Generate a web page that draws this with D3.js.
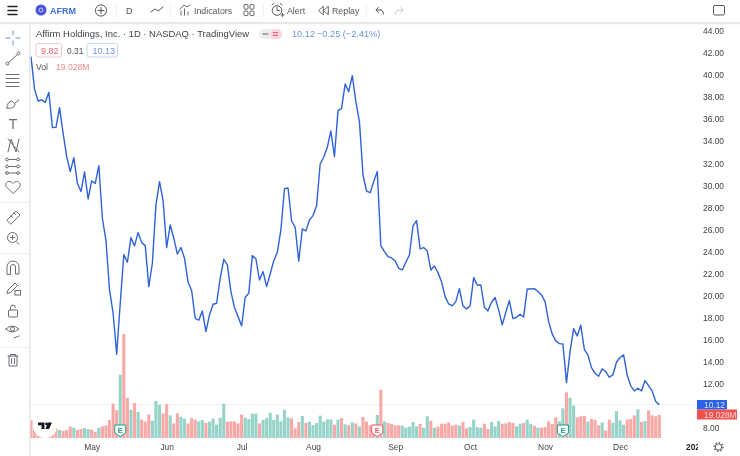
<!DOCTYPE html>
<html>
<head>
<meta charset="utf-8">
<script src="https://d3js.org/d3.v7.min.js"></script>
<style>
  html, body { margin: 0; padding: 0; background: #fff; }
  svg { display: block; filter: blur(0.3px); }
  text { font-family: "Liberation Sans", Arial, sans-serif; }
</style>
</head>
<body>
<div id="chart"></div>
<script>
// closing price per trading day
const closes = [
  41.67, 38.71, 37.65, 37.75, 37.53, 38.44, 35.24, 35.27, 37.05, 34.72,
  32.61, 31.25, 32.52, 30.19, 29.44, 31.22, 28.77, 30.40, 30.19, 31.79,
  27.02, 25.00, 20.52, 18.41, 14.69, 19.31, 23.72, 23.03, 25.27, 24.51,
  25.72, 24.81, 24.54, 20.82, 22.94, 28.23, 30.34, 28.62, 24.36, 26.41,
  25.21, 23.78, 24.36, 23.39, 21.22, 20.46, 17.95, 17.77, 18.62, 16.74,
  18.25, 19.22, 19.31, 21.58, 23.30, 22.79, 20.37, 18.92, 18.10, 17.26,
  19.86, 20.22, 23.63, 23.33, 21.42, 22.18, 20.82, 21.97, 23.15, 23.93,
  25.96, 29.70, 29.76, 26.77, 26.20, 23.12, 26.05, 25.87, 26.86, 27.26,
  28.16, 31.94, 32.55, 33.45, 34.93, 32.61, 36.78, 36.99, 39.19, 38.50,
  39.95, 37.59, 35.78, 30.94, 29.49, 29.34, 30.34, 31.25, 24.54, 23.99,
  23.54, 23.42, 23.15, 22.48, 22.33, 23.03, 23.69, 26.32, 26.80, 24.24,
  24.36, 24.05, 22.33, 22.69, 22.09, 21.27, 19.91, 19.25, 19.07, 19.46,
  20.64, 19.07, 18.80, 19.07, 21.64, 20.97, 20.97, 18.95, 18.62, 19.40,
  19.83, 18.71, 17.35, 18.47, 19.55, 17.92, 18.04, 18.31, 18.07, 20.61,
  20.61, 20.64, 20.37, 20.07, 19.46, 17.65, 16.53, 15.90, 15.65, 15.62,
  12.12, 14.93, 17.01, 16.35, 17.32, 15.14, 14.63, 13.48, 12.97, 12.69,
  13.36, 13.12, 12.60, 12.81, 13.96, 14.39, 14.63, 12.81, 11.82, 11.36,
  11.61, 11.36, 12.30, 11.85, 11.36, 10.40, 10.12
];

// volume in millions
const volumes = [
  14.6, 10.2, 6.9, 2.8, 2.8, 4.1, 6.9, 8.3, 6.6, 5.8,
  6.6, 9.4, 8.5, 6.6, 7.4, 8.3, 7.4, 6.9, 5.2, 8.5,
  9.6, 10.5, 14.9, 28.4, 22.9, 52.3, 86.0, 33.1, 23.4, 28.9,
  21.5, 15.2, 13.5, 19.3, 14.3, 30.6, 27.5, 20.4, 28.1, 18.7,
  12.1, 20.4, 17.6, 16.0, 12.1, 16.5, 15.2, 13.8, 14.9, 12.4,
  13.5, 16.0, 11.0, 16.8, 28.4, 13.5, 13.8, 13.8, 12.1, 19.3,
  16.8, 15.7, 20.1, 20.1, 12.1, 14.9, 16.5, 20.7, 14.9, 19.3,
  13.8, 23.4, 17.1, 16.3, 8.0, 13.2, 18.2, 12.4, 13.5, 10.7,
  12.4, 18.5, 13.5, 15.4, 15.4, 11.0, 15.2, 16.5, 11.3, 10.5,
  12.9, 12.1, 9.6, 17.4, 13.5, 10.5, 11.0, 19.0, 39.9, 13.8,
  12.4, 11.6, 10.5, 10.5, 10.2, 8.5, 9.4, 13.2, 9.6, 11.6,
  8.5, 17.9, 14.3, 8.5, 9.4, 11.8, 11.8, 12.9, 10.2, 11.0,
  10.2, 13.2, 8.0, 9.1, 15.2, 8.8, 8.5, 11.8, 7.4, 13.2,
  9.6, 14.0, 11.8, 12.1, 13.2, 12.4, 9.6, 11.8, 12.4, 15.2,
  11.6, 10.2, 8.5, 8.5, 9.1, 13.8, 11.6, 17.1, 13.8, 24.5,
  37.7, 33.3, 26.7, 17.1, 17.9, 18.2, 13.5, 15.7, 14.9, 10.5,
  12.9, 6.1, 15.2, 12.7, 22.3, 14.6, 11.0, 15.4, 15.7, 18.7,
  23.7, 13.2, 14.0, 22.9, 18.7, 17.9, 19.03
];

// r = down day, g = up day, ten per group
const volumeDirs = (
  'rrrggrrrgr' + 'rrgrrggrrg' + 'rrrrrgrrgr' + 'grrrgggrrg' + 'rrggrrrggr' +
  'gggggrrrrr' + 'ggggrggggg' + 'gggrrrgrgg' + 'gggggrgrgr' + 'grgrrrrgrg' +
  'rrrrgggggr' + 'ggrgrrrrrr' + 'grrggggrrg' + 'ggrrrrggrg' + 'grgrrrrrgg' +
  'rggrrrgrrr' + 'grrggggrrr' + 'grgrrrr'
).split('');

const monthLabels = ['May', 'Jun', 'Jul', 'Aug', 'Sep', 'Oct', 'Nov', 'Dec'];
const monthStarts = [17, 38, 59, 79, 102, 123, 144, 165];
const priceTicks = [8, 12, 14, 16, 18, 20, 22, 24, 26, 28, 30, 32, 34, 36, 38, 40, 42, 44];

// earnings markers: trading day index and colour
const earnings = [
  {day: 25, color: '#1f9c84'},
  {day: 97, color: '#ee5a5f'},
  {day: 149, color: '#1f9c84'},
];

const width = 740, height = 456;
const svg = d3.select('#chart').append('svg').attr('width', width).attr('height', height);

svg.append('rect').attr('width', width).attr('height', height).attr('fill', '#fff');

const x = d3.scaleLinear().domain([0, closes.length - 1]).range([31, 659.3]);
const y = d3.scaleLinear().domain([8, 44]).range([428, 31]);
const yVol = d3.scaleLinear().domain([0, 86]).range([438, 334]);

const lastClose = closes[closes.length - 1];

// last price line
svg.append('line')
  .attr('x1', 30).attr('x2', 697)
  .attr('y1', y(lastClose)).attr('y2', y(lastClose))
  .attr('stroke', '#eef0fa').attr('stroke-width', 1);

// volume
svg.append('g').selectAll('rect').data(volumes).join('rect')
  .attr('x', (d, i) => x(i) - 1.55)
  .attr('width', 3.1)
  .attr('y', d => yVol(d))
  .attr('height', d => yVol(0) - yVol(d))
  .attr('fill', (d, i) => volumeDirs[i] === 'g' ? '#96d3c8' : '#f8a9a7');

// price line
const line = d3.line().x((d, i) => x(i)).y(d => y(d));
svg.append('path').datum(closes)
  .attr('d', line)
  .attr('fill', 'none')
  .attr('stroke', '#2f62d9')
  .attr('stroke-width', 1.4)
  .attr('stroke-linejoin', 'round');

// earnings flags
const flags = svg.append('g').selectAll('g').data(earnings).join('g')
  .attr('transform', d => `translate(${x(d.day)},430)`);
flags.append('path')
  .attr('d', 'M-5.5,-5 L5.5,-5 L5.5,3 L0,6.5 L-5.5,3 Z')
  .attr('fill', '#fff')
  .attr('stroke', d => d.color)
  .attr('stroke-width', 1);
flags.append('text')
  .attr('text-anchor', 'middle').attr('y', 2.6)
  .attr('font-size', 7.5).attr('font-weight', 700)
  .attr('fill', d => d.color)
  .text('E');

// tradingview logo
svg.append('circle').attr('cx', 45).attr('cy', 426).attr('r', 12).attr('fill', '#fff');
svg.append('path')
  .attr('d', 'M38,422.5h6.5v6.5h-3v-3.7h-3.5z M45.5,429l2.5,-6.5h4l-3,6.5z')
  .attr('fill', '#131722');
svg.append('circle').attr('cx', 46.6).attr('cy', 424).attr('r', 1.4).attr('fill', '#131722');

const yAxis = d3.axisRight(y).tickValues(priceTicks).tickSize(0).tickFormat(d3.format('.2f'));
svg.append('g').attr('transform', 'translate(703,0)').call(yAxis)
  .call(g => g.select('.domain').remove())
  .call(g => g.selectAll('text')
    .attr('x', 0).attr('fill', '#3f4249').attr('font-size', 8.4)
    .attr('font-family', '"Liberation Sans", sans-serif'));

const xAxis = d3.axisBottom(x).tickValues(monthStarts)
  .tickSize(0).tickFormat((d, i) => monthLabels[i]);
svg.append('g').attr('transform', 'translate(0,441)').call(xAxis)
  .call(g => g.select('.domain').remove())
  .call(g => g.selectAll('text')
    .attr('y', 3).attr('fill', '#3f4249').attr('font-size', 8.4)
    .attr('font-family', '"Liberation Sans", sans-serif'));

// last value tags
svg.append('rect').attr('x', 697).attr('y', 400).attr('width', 30).attr('height', 9.5).attr('fill', '#2962e8');
svg.append('text').attr('x', 704).attr('y', 408).attr('font-size', 8.4).attr('fill', '#d5e0fb').text(lastClose.toFixed(2));
svg.append('rect').attr('x', 697).attr('y', 409.5).attr('width', 40).attr('height', 10).attr('fill', '#ee5350');
svg.append('text').attr('x', 704).attr('y', 418).attr('font-size', 8.4).attr('fill', '#fbd8d6').text('19.028M');

// bottom right
svg.append('text').attr('x', 686).attr('y', 450).attr('font-size', 8.4).attr('font-weight', 700).attr('fill', '#222').text('202');
svg.append('rect').attr('x', 698).attr('y', 442).attr('width', 14).attr('height', 12).attr('fill', '#fff');
svg.append('circle').attr('cx', 718.5).attr('cy', 447).attr('r', 3.2).attr('fill', 'none').attr('stroke', '#555').attr('stroke-width', 1);
svg.append('circle').attr('cx', 718.5).attr('cy', 447).attr('r', 4.4).attr('fill', 'none').attr('stroke', '#555').attr('stroke-width', 1.4).attr('stroke-dasharray', '1.4 2');

// frame
svg.append('rect').attr('x', 0).attr('y', 22).attr('width', width).attr('height', 2.2).attr('fill', '#e6e7ea');
svg.append('rect').attr('x', 29).attr('y', 24).attr('width', 1.6).attr('height', 432).attr('fill', '#e6e7ea');

// legend
const label = (tx, ty, str, size, fill, weight) => svg.append('text')
  .attr('x', tx).attr('y', ty).attr('font-size', size).attr('fill', fill)
  .attr('font-weight', weight || 400).text(str);

label(36, 37, 'Affirm Holdings, Inc. · 1D · NASDAQ · TradingView', 9.45, '#3f4249');
svg.append('rect').attr('x', 259).attr('y', 29).attr('width', 23).attr('height', 10).attr('rx', 5).attr('fill', '#eeeef0');
svg.append('rect').attr('x', 270).attr('y', 29).attr('width', 12).attr('height', 10).attr('rx', 5).attr('fill', '#fbd5dc');
svg.append('path').attr('d', 'M262.5,34h6').attr('stroke', '#777').attr('stroke-width', 1.2);
svg.append('path').attr('d', 'M273,32.6h5 M273,35.4h5').attr('stroke', '#e0566f').attr('stroke-width', 1);
label(292, 37, '10.12', 9.2, '#6d94e2');
label(317, 37, '−0.25 (−2.41%)', 9.2, '#6d94e2');

svg.append('rect').attr('x', 36).attr('y', 43.5).attr('width', 25.5).attr('height', 13.5).attr('rx', 2).attr('fill', '#fff').attr('stroke', '#f7c5c9');
label(41, 53.5, '9.82', 9, '#e0666f');
label(67, 53.5, '0.31', 8.4, '#555');
svg.append('rect').attr('x', 87).attr('y', 43.5).attr('width', 30.5).attr('height', 13.5).attr('rx', 2).attr('fill', '#fff').attr('stroke', '#c5d5f5');
label(92.5, 53.5, '10.13', 9, '#6d94e2');
label(36, 70, 'Vol', 8.6, '#555');
label(56, 70, '19.028M', 8.6, '#f08a88');

// top toolbar
const icon = (d, color, sw) => svg.append('path').attr('d', d)
  .attr('fill', 'none').attr('stroke', color || '#555').attr('stroke-width', sw || 1)
  .attr('stroke-linecap', 'round').attr('stroke-linejoin', 'round');

icon('M8,6.5h9 M8,10.5h9 M8,14.5h9', '#222', 1.5);
svg.append('circle').attr('cx', 41).attr('cy', 10).attr('r', 5.5).attr('fill', '#4a52d8');
svg.append('circle').attr('cx', 41).attr('cy', 10).attr('r', 2).attr('fill', 'none').attr('stroke', '#c9cdf7').attr('stroke-width', 1);
label(50, 14, 'AFRM', 9, '#3f6fe0', 700);
svg.append('circle').attr('cx', 101).attr('cy', 10.5).attr('r', 5.6).attr('fill', 'none').attr('stroke', '#555');
icon('M101,7.5v6 M98,10.5h6', '#555', 1);
label(126, 14, 'D', 9, '#555');
icon('M151,12l4,-3l3,2l5,-4', '#555', 1);
icon('M181,15v-4 M184.5,15v-6 M188,15v-3 M180,9l4,-4l3,2l3,-2', '#555', .9);
label(194, 14, 'Indicators', 8.8, '#555');
[244, 250].forEach(cx => [4.5, 11].forEach(cy =>
  svg.append('rect').attr('x', cx).attr('y', cy).attr('width', 4).attr('height', 4.6).attr('rx', 1)
    .attr('fill', 'none').attr('stroke', '#555').attr('stroke-width', .9)));
svg.append('circle').attr('cx', 277).attr('cy', 10.5).attr('r', 4.8).attr('fill', 'none').attr('stroke', '#555');
icon('M277,7.5v3h2.5 M272,5l1.8,-1.5 M282,5l-1.8,-1.5 M281,15h3 M282.5,13.5v3', '#555', .9);
label(287, 14, 'Alert', 8.8, '#555');
icon('M323,6.5l-4.5,4l4.5,4z M328,6.5l-4.5,4l4.5,4z', '#555', .9);
label(332, 14, 'Replay', 8.8, '#555');
icon('M381,10h-5l2.5,-2.5 M376,10l2.5,2.5 M381,10q3,1 2.5,4', '#555', 1);
icon('M403,10h-5 M403,10l-2.5,-2.5 M403,10l-2.5,2.5 M398,10q-3,1 -2.5,4', '#ccc', 1);
svg.append('rect').attr('x', 713.5).attr('y', 5.5).attr('width', 11).attr('height', 9.5).attr('rx', 1.5)
  .attr('fill', 'none').attr('stroke', '#555').attr('stroke-width', 1);
[116, 170, 263, 366].forEach(sx => svg.append('rect').attr('x', sx).attr('y', 4).attr('width', 1).attr('height', 13).attr('fill', '#f1f1f3'));

// left toolbar
const t = '#6a6d75';
icon('M13,31v4 M13,41v4 M6,38h4 M16,38h4', '#6f8fe0', 1);
icon('M8,63l10,-9', t);
svg.append('circle').attr('cx', 7.5).attr('cy', 63.5).attr('r', 1.5).attr('fill', '#fff').attr('stroke', t);
svg.append('circle').attr('cx', 18.5).attr('cy', 53.5).attr('r', 1.5).attr('fill', '#fff').attr('stroke', t);
icon('M6,74.5h13 M6,78.5h13 M6,82.5h13 M6,86.5h13', t);
icon('M7,108c0,-4 2,-7 5,-7l3,3c0,3 -3,5 -8,4z M15,103l4,-3', t);
svg.append('text').attr('x', 13).attr('y', 129).attr('text-anchor', 'middle').attr('font-size', 14)
  .attr('font-family', '"Liberation Serif", serif').attr('fill', t).text('T');
icon('M8,152l3,-13l5,13l3,-13 M8,139l11,13', t);
icon('M6,159.5h14 M6,166.5h14 M6,173h14', t);
[[7, 159.5], [18, 159.5], [7, 166.5], [18, 166.5], [7, 173], [18, 173]].forEach(([cx, cy]) =>
  svg.append('circle').attr('cx', cx).attr('cy', cy).attr('r', 1.4).attr('fill', '#fff').attr('stroke', t));
icon('M13,193.5l-6.5,-6.5c-3,-4 3,-8 6.5,-3.5c3.5,-4.5 9.5,-.5 6.5,3.5z', t);
icon('M7,220l9,-9l4,4l-9,9z M11,216l1.5,1.5 M14,213l1.5,1.5', t);
svg.append('circle').attr('cx', 12.5).attr('cy', 237.5).attr('r', 5).attr('fill', 'none').attr('stroke', t);
icon('M10.5,237.5h4 M12.5,235.5v4 M16,241.5l3,3', t);
icon('M7,274v-7a6,6 0 0 1 12,0v7h-3.5v-7a2.5,2.5 0 0 0 -5,0v7z', t);
icon('M7,293l1,-3l7,-7l2.5,2.5l-7,7z', t);
svg.append('rect').attr('x', 15).attr('y', 290.5).attr('width', 5.5).attr('height', 4.5).attr('fill', 'none').attr('stroke', t);
svg.append('rect').attr('x', 8.5).attr('y', 310).attr('width', 9).attr('height', 7).attr('rx', 1).attr('fill', 'none').attr('stroke', t);
icon('M10.5,310v-2.5a2.5,2.5 0 0 1 5,0', t);
icon('M6,329q6,-6 13,0q-7,6 -13,0z M14,338l5,-2', t);
svg.append('circle').attr('cx', 12.5).attr('cy', 329).attr('r', 2).attr('fill', 'none').attr('stroke', t);
icon('M8,356h10 M10.5,356v-1.5h5v1.5 M9,356v10h8v-10 M11.5,358.5v5 M14.5,358.5v5', t);
[202, 253, 347].forEach(sy => svg.append('rect').attr('x', 0).attr('y', sy).attr('width', 29).attr('height', 1).attr('fill', '#eeeff1'));
</script>
</body>
</html>
